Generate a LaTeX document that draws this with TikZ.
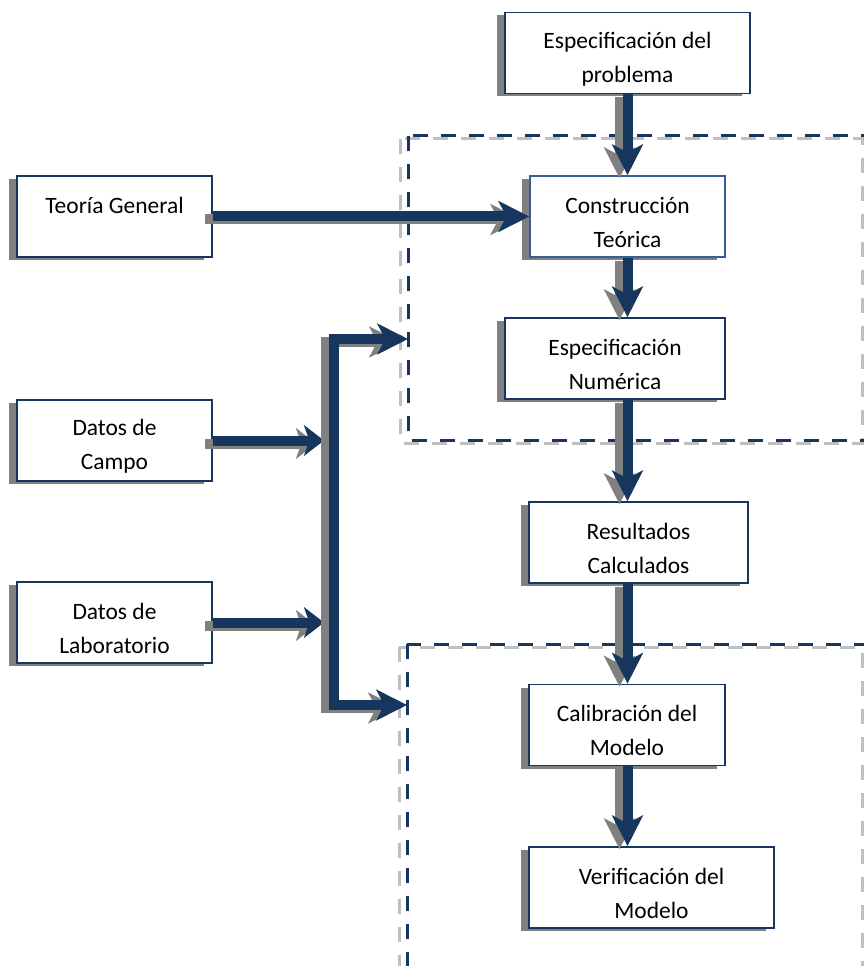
\documentclass[tikz,border=0pt]{standalone}
\usepackage{fontspec}
\setmainfont{Carlito}
\usetikzlibrary{arrows.meta,shadows}
\definecolor{navy}{RGB}{23,54,93}
\definecolor{midblue}{RGB}{54,96,146}
\definecolor{shadowgray}{RGB}{128,128,128}
\definecolor{dashgray}{RGB}{191,191,191}
% extra room above the first line of a box
\newcommand{\topgap}{\rule{0pt}{21pt}}
\tikzset{
  bigtip/.tip={Stealth[length=23pt,width=23pt,inset=6pt]},
  smalltip/.tip={Stealth[length=15pt,width=23pt,inset=4pt]},
  box/.style={draw=navy, line width=1.2pt, fill=white, align=center, inner sep=0pt,
    minimum height=60.75pt, font=\fontsize{17.6}{25.5}\selectfont,
    drop shadow={shadow xshift=-6pt, shadow yshift=-2.25pt, fill=shadowgray, opacity=1}},
  flowline/.style={color=navy, line width=7.5pt, line join=miter, arrows=-bigtip},
  region/.style={line width=2.25pt, dash pattern=on 11.25pt off 9.75pt}
}
% thick arrow with its grey shadow
\newcommand{\flow}[2][]{%
  \draw[flowline,#1,color=shadowgray,transform canvas={xshift=-6pt,yshift=-2.25pt}] #2;
  \draw[flowline,#1] #2;}
\begin{document}
\begin{tikzpicture}[x=0.75pt,y=-0.75pt]
  \useasboundingbox (0,0) rectangle (863,966);
  % dashed regions
  \coordinate (upNW) at (408,136);
  \coordinate (lowNW) at (407,644);
  \draw[region,dashgray] (400,139) rectangle (862,443);
  \draw[region,navy] (upNW) rectangle (870,440);
  \draw[region,dashgray] (399,647) rectangle (862,1000);
  \draw[region,navy] (lowNW) rectangle (870,1000);
  % boxes
  \node[box, minimum width=183.75pt] (prob) at (627.5,53) {\topgap Especificación del\\problema};
  \node[box, minimum width=146.25pt] (teoria) at (114.5,216.5) {\topgap Teoría General\\\mbox{}};
  \node[box, draw=midblue, minimum width=146.25pt] (constr) at (627.5,216.5) {\topgap Construcción\\Teórica};
  \node[box, minimum width=165pt] (numer) at (615,358.5) {\topgap Especificación\\Numérica};
  \node[box, minimum width=164.25pt] (result) at (638.5,542.5) {\topgap Resultados\\Calculados};
  \node[box, minimum width=147pt] (calib) at (627,725) {\topgap Calibración del\\Modelo};
  \node[box, minimum width=183.75pt] (verif) at (651.5,887.5) {\topgap Verificación del\\Modelo};
  \node[box, minimum width=146.25pt] (campo) at (114.5,440.5) {\topgap Datos de\\Campo};
  \node[box, minimum width=146.25pt] (lab) at (114.5,622.5) {\topgap Datos de\\Laboratorio};
  % arrows
  \coordinate (busTop) at (334,339);
  \coordinate (busBot) at (334,705);
  \flow{(prob) -- (constr)}
  \flow{(constr.south) -- (constr.south |- numer.north)}
  \flow{(numer.south -| constr) -- (result.north -| constr)}
  \flow{(result.south -| constr) -- (calib.north -| constr)}
  \flow{(calib.south -| constr) -- (verif.north -| constr)}
  \flow{(teoria) -- (constr)}
  \flow[arrows=-smalltip]{(campo.east) -- ([xshift=-7.5pt]campo.east -| busTop)}
  \flow[arrows=-smalltip]{(lab.east) -- ([xshift=-7.5pt]lab.east -| busTop)}
  \flow[arrows=bigtip-bigtip]{(upNW |- busTop) -- (busTop) -- (busBot) -- (lowNW |- busBot)}
\end{tikzpicture}
\end{document}
